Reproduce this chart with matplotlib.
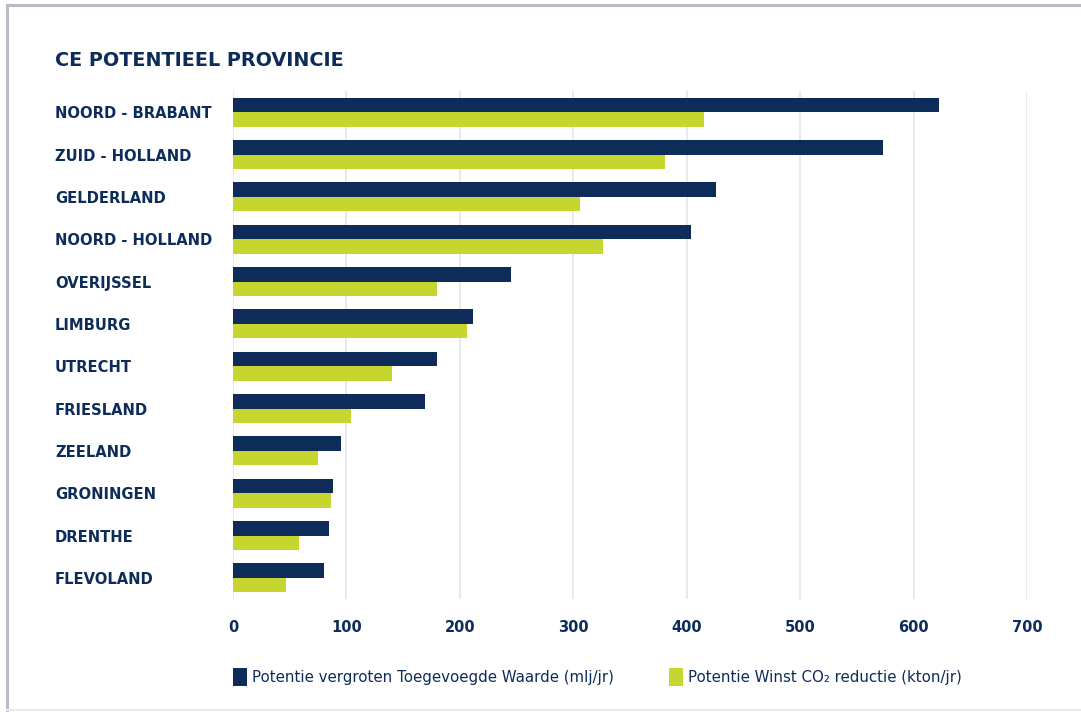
import matplotlib
matplotlib.use("Agg")
import matplotlib.pyplot as plt
from matplotlib.lines import Line2D
import numpy as np

provinces = ["NOORD - BRABANT", "ZUID - HOLLAND", "GELDERLAND", "NOORD - HOLLAND",
             "OVERIJSSEL", "LIMBURG", "UTRECHT", "FRIESLAND", "ZEELAND",
             "GRONINGEN", "DRENTHE", "FLEVOLAND"]
toegevoegde_waarde = [622, 573, 426, 404, 245, 212, 180, 169, 95, 88, 85, 80]
co2_reductie = [415, 381, 306, 326, 180, 206, 140, 104, 75, 86, 58, 47]
xticks = [0, 100, 200, 300, 400, 500, 600, 700]
series_labels = ["Potentie vergroten Toegevoegde Waarde (mlj/jr)",
                 "Potentie Winst CO₂ reductie (kton/jr)"]
title = "CE POTENTIEEL PROVINCIE"

NAVY = "#0e2c5a"
GREEN = "#c6d62e"
GRID = "#e1e5ee"

W, H = 1081, 712
fig = plt.figure(figsize=(W / 100, H / 100), dpi=100)
fig.patch.set_facecolor("white")

# frame lines
fig.add_artist(Line2D([7 / W, 7 / W], [0, 1 - 5 / H], color="#b8bcc4", lw=2.2))
fig.add_artist(Line2D([7 / W, 1], [1 - 5 / H, 1 - 5 / H], color="#b8bcc4", lw=2.2))
fig.add_artist(Line2D([7 / W, 1], [2 / H, 2 / H], color="#e8eaee", lw=1.5))

left, right = 233, 1027
top, bottom = 91, 599
ax = fig.add_axes([left / W, 1 - bottom / H, (right - left) / W, (bottom - top) / H])

y = np.arange(len(provinces))
bh = 0.345
ax.barh(y - bh / 2, toegevoegde_waarde, height=bh, color=NAVY, label=series_labels[0], zorder=3)
ax.barh(y + bh / 2, co2_reductie, height=bh, color=GREEN, label=series_labels[1], zorder=3)

ax.set_xlim(0, 700)
ax.set_ylim(len(provinces) - 0.5, -0.5)
ax.set_xticks(xticks)
ax.set_xticklabels([str(v) for v in xticks])
ax.set_yticks(y)
ax.set_yticklabels(provinces)
for s in ax.spines.values():
    s.set_visible(False)
ax.grid(axis="x", color=GRID, lw=1.2, zorder=0)
ax.set_axisbelow(True)
ax.tick_params(axis="x", length=0, pad=15, labelsize=10.5, labelcolor=NAVY)
ax.tick_params(axis="y", length=0, pad=(233 - 55) * 0.72, labelsize=10.6, labelcolor=NAVY)
for lab in ax.get_yticklabels():
    lab.set_ha("left")
    lab.set_fontweight("semibold")
for lab in ax.get_xticklabels():
    lab.set_fontweight("semibold")

fig.text(55 / W, 1 - 60 / H, title, color=NAVY, fontsize=13.8, fontweight="bold",
         va="center", ha="left")

leg = fig.legend(loc="center left", bbox_to_anchor=(233 / W, 1 - 677 / H), ncol=2,
                 frameon=False, fontsize=10.8, handlelength=0.92, handleheight=1.55,
                 handletextpad=0.35, columnspacing=3.65, labelcolor=NAVY,
                 borderaxespad=0, borderpad=0)

fig.savefig("out.png", dpi=100, facecolor="white")
